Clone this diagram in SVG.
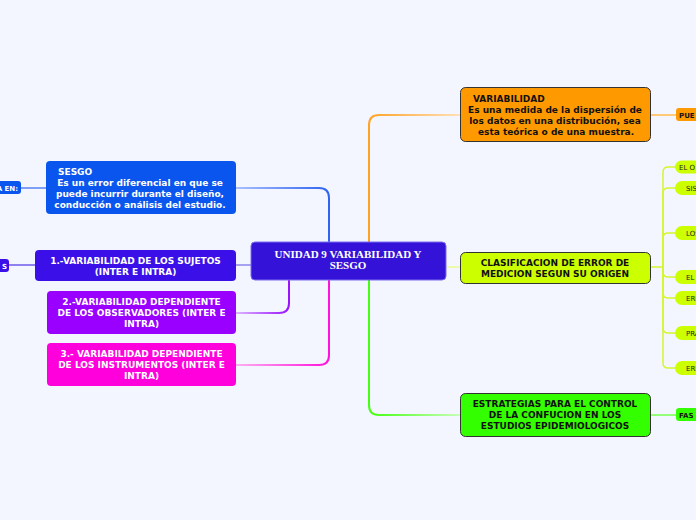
<svg xmlns="http://www.w3.org/2000/svg" width="696" height="520" viewBox="0 0 696 520">
<defs>
<style>
.t{font-family:"DejaVu Sans",Verdana,sans-serif;font-weight:bold;font-size:9px}
.w{fill:#ffffff}
.k{fill:#111111}
.c{font-family:"Liberation Serif","Times New Roman",serif;font-weight:bold;font-size:11px;fill:#ffffff}
.s{font-family:"DejaVu Sans",Verdana,sans-serif;font-weight:bold;font-size:7px;fill:#111111}
.p{font-family:"DejaVu Sans",Verdana,sans-serif;font-size:7px;fill:#222222}
.rn{stroke:#333333;stroke-width:1}
.ln{fill:none;stroke-width:2}
</style>
<linearGradient id="gBlue" gradientUnits="userSpaceOnUse" x1="236" y1="0" x2="329" y2="0"><stop offset="0" stop-color="#a9c0ff"/><stop offset="1" stop-color="#2f63f0"/></linearGradient>
<linearGradient id="gPur" gradientUnits="userSpaceOnUse" x1="236" y1="0" x2="289" y2="0"><stop offset="0" stop-color="#dcb5ff"/><stop offset="1" stop-color="#9a11ff"/></linearGradient>
<linearGradient id="gMag" gradientUnits="userSpaceOnUse" x1="236" y1="0" x2="329" y2="0"><stop offset="0" stop-color="#ffb0f2"/><stop offset="1" stop-color="#ff11dd"/></linearGradient>
<linearGradient id="gOr" gradientUnits="userSpaceOnUse" x1="460" y1="0" x2="369" y2="0"><stop offset="0" stop-color="#ffe0b8"/><stop offset="1" stop-color="#ffa326"/></linearGradient>
<linearGradient id="gGr" gradientUnits="userSpaceOnUse" x1="460" y1="0" x2="369" y2="0"><stop offset="0" stop-color="#c8ffb8"/><stop offset="1" stop-color="#44ff11"/></linearGradient>
</defs>
<rect width="696" height="520" fill="#f3f6fe"/>
<g id="connectors">
<path class="ln" d="M236,188 H319 Q329,188 329,198 V242" stroke="url(#gBlue)"/>
<path class="ln" d="M236,265 H251" stroke="#a7a2f0"/>
<path class="ln" d="M289,280 V303 Q289,313 279,313 H236" stroke="url(#gPur)"/>
<path class="ln" d="M329,280 V355 Q329,365 319,365 H236" stroke="url(#gMag)"/>
<path class="ln" d="M369,242 V125 Q369,115 379,115 H460" stroke="url(#gOr)"/>
<path class="ln" d="M446,267 H460" stroke="#eef9b0"/>
<path class="ln" d="M369,280 V405 Q369,415 379,415 H460" stroke="url(#gGr)"/>
<path class="ln" d="M21,188 H46" stroke="#7f9ef5"/>
<path class="ln" d="M9,265 H35" stroke="#8f82f0"/>
<path class="ln" d="M651,115 H676" stroke="#ffc97a"/>
<path class="ln" d="M651,415 H676" stroke="#95ff7a"/>
<g fill="none" stroke="#d6f52e" stroke-width="1.5">
<path d="M651,267 H663"/>
<path d="M663,267 V172 Q663,167 668,167 H676"/>
<path d="M663,267 V193 Q663,188 668,188 H676"/>
<path d="M663,267 V238 Q663,233 668,233 H676"/>
<path d="M663,267 V272 Q663,277 668,277 H676"/>
<path d="M663,267 V293 Q663,298 668,298 H676"/>
<path d="M663,267 V328 Q663,333 668,333 H676"/>
<path d="M663,267 V363 Q663,368 668,368 H676"/>
</g>
</g>
<g id="central">
<rect x="251" y="242" width="195" height="38" rx="4" fill="#3412d8" stroke="#7a6cf0" stroke-width="1"/>
<text class="c" x="348" y="258" text-anchor="middle">UNIDAD 9 VARIABILIDAD Y</text>
<text class="c" x="348" y="269" text-anchor="middle">SESGO</text>
</g>
<g id="sesgo">
<rect x="46" y="161" width="190" height="53" rx="4" fill="#0a55ee"/>
<text class="t w" x="58" y="175">SESGO</text>
<text class="t w" x="140" y="186" text-anchor="middle">Es un error diferencial en que se</text>
<text class="t w" x="140" y="197" text-anchor="middle">puede incurrir durante el diseño,</text>
<text class="t w" x="140" y="208" text-anchor="middle">conducción o análisis del estudio.</text>
</g>
<g id="sesgo-child">
<rect x="-20" y="181" width="41" height="13" rx="3" fill="#0a55ee"/>
<text class="s" x="18" y="190.5" text-anchor="end" fill="#ffffff" style="fill:#ffffff">A EN:</text>
</g>
<g id="var-sujetos">
<rect x="35" y="250" width="201" height="31" rx="4" fill="#3b10e8"/>
<text class="t w" x="135.5" y="264" text-anchor="middle">1.-VARIABILIDAD DE LOS SUJETOS</text>
<text class="t w" x="135.5" y="275" text-anchor="middle">(INTER E INTRA)</text>
</g>
<g id="sujetos-child">
<rect x="-20" y="259" width="29" height="13" rx="3" fill="#3b10e8"/>
<text class="s" x="7" y="268.5" text-anchor="end" style="fill:#ffffff">S</text>
</g>
<g id="var-observadores">
<rect x="47" y="291" width="189" height="43" rx="4" fill="#9900ff"/>
<text class="t w" x="141.5" y="305" text-anchor="middle">2.-VARIABILIDAD DEPENDIENTE</text>
<text class="t w" x="141.5" y="316" text-anchor="middle">DE LOS OBSERVADORES (INTER E</text>
<text class="t w" x="141.5" y="327" text-anchor="middle">INTRA)</text>
</g>
<g id="var-instrumentos">
<rect x="47" y="343" width="189" height="43" rx="4" fill="#ff00dd"/>
<text class="t w" x="141.5" y="357" text-anchor="middle">3.- VARIABILIDAD DEPENDIENTE</text>
<text class="t w" x="141.5" y="368" text-anchor="middle">DE LOS INSTRUMENTOS (INTER E</text>
<text class="t w" x="141.5" y="379" text-anchor="middle">INTRA)</text>
</g>
<g id="variabilidad">
<rect x="460.5" y="87.5" width="190" height="54" rx="5" fill="#ff9900" class="rn"/>
<text class="t k" x="473" y="102">VARIABILIDAD</text>
<text class="t k" x="555" y="113" text-anchor="middle">Es una medida de la dispersión de</text>
<text class="t k" x="555" y="124" text-anchor="middle">los datos en una distribución, sea</text>
<text class="t k" x="556" y="135" text-anchor="middle">esta teórica o de una muestra.</text>
</g>
<g id="variabilidad-child">
<rect x="676" y="108" width="40" height="13" rx="3" fill="#ff9900"/>
<text class="s" x="679" y="117.5">PUE</text>
</g>
<g id="clasificacion">
<rect x="460.5" y="252.5" width="190" height="31" rx="5" fill="#ccff00" class="rn"/>
<text class="t k" x="555" y="266" text-anchor="middle">CLASIFICACION DE ERROR DE</text>
<text class="t k" x="555" y="277" text-anchor="middle">MEDICION SEGUN SU ORIGEN</text>
</g>
<g id="clas-1"><rect x="675" y="160.5" width="50" height="13" rx="6.5" fill="#ccff00"/><text class="p" x="679" y="170">EL O</text></g>
<g id="clas-2"><rect x="675" y="181" width="50" height="14" rx="7" fill="#ccff00"/><text class="p" x="686" y="191">SIS</text></g>
<g id="clas-3"><rect x="675" y="226" width="50" height="14" rx="7" fill="#ccff00"/><text class="p" x="686" y="236">LOS</text></g>
<g id="clas-4"><rect x="675" y="270" width="50" height="14" rx="7" fill="#ccff00"/><text class="p" x="686" y="280">EL</text></g>
<g id="clas-5"><rect x="675" y="291" width="50" height="14" rx="7" fill="#ccff00"/><text class="p" x="686" y="301">ERR</text></g>
<g id="clas-6"><rect x="675" y="326" width="50" height="14" rx="7" fill="#ccff00"/><text class="p" x="686" y="336">PRA</text></g>
<g id="clas-7"><rect x="675" y="361" width="50" height="14" rx="7" fill="#ccff00"/><text class="p" x="686" y="371">ERR</text></g>
<g id="estrategias">
<rect x="460.5" y="393.5" width="190" height="43" rx="5" fill="#33ff00" class="rn"/>
<text class="t k" x="555" y="407" text-anchor="middle">ESTRATEGIAS PARA EL CONTROL</text>
<text class="t k" x="555" y="418" text-anchor="middle">DE LA CONFUCION EN LOS</text>
<text class="t k" x="555" y="429" text-anchor="middle">ESTUDIOS EPIDEMIOLOGICOS</text>
</g>
<g id="estrategias-child">
<rect x="676" y="408" width="40" height="13" rx="3" fill="#33ff00"/>
<text class="s" x="679" y="417.5">FAS</text>
</g>
</svg>
